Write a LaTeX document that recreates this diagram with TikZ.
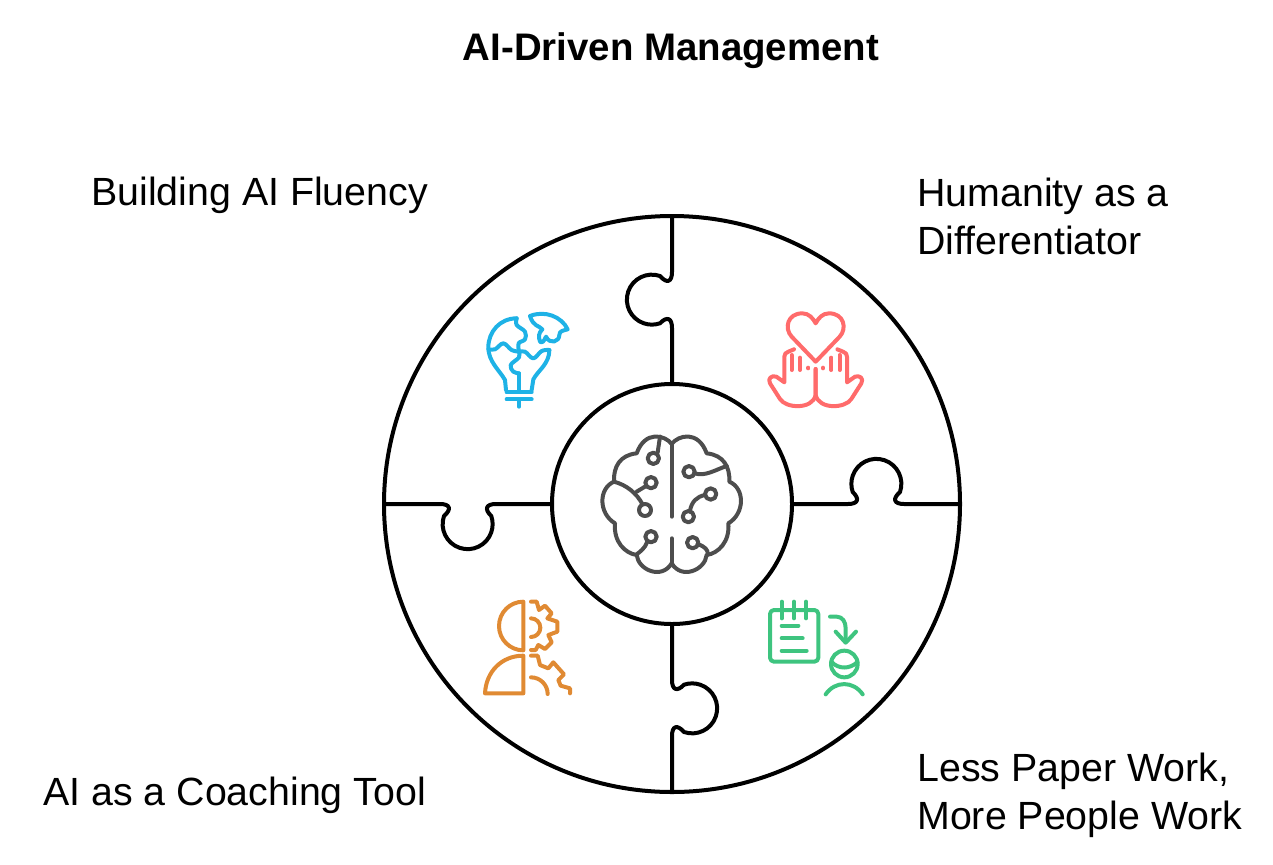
\documentclass[tikz,border=0pt]{standalone}
\usepackage{fontspec}
\setmainfont{Liberation Sans}
\usepackage{xcolor}
\definecolor{bulbblue}{RGB}{30,178,230}
\definecolor{heartred}{RGB}{255,107,107}
\definecolor{braingray}{RGB}{77,77,77}
\definecolor{gearorange}{RGB}{224,138,51}
\definecolor{notegreen}{RGB}{62,196,127}
\usetikzlibrary{positioning}

\begin{document}
\begin{tikzpicture}[
  x=0.75pt, y=-0.75pt,
  ringline/.style={draw=black, line width=3pt, line join=round},
  iconline/.style={line width=3pt, line cap=round, line join=round},
  heading/.style={inner sep=0pt, font=\fontsize{28.8}{34}\selectfont\bfseries},
  caption/.style={inner sep=0pt, anchor=west, align=left, font=\fontsize{29.5}{36}\selectfont}
]
\useasboundingbox (0,0) rectangle (1273,864);

\node[heading] (title) at (671,51) {AI-Driven Management};
\node[caption] (fluency) at (91,195) {Building AI Fluency};
\node[caption] (humanity) at (917,216) {Humanity as a\\Differentiator};
\node[caption] (coaching) at (43,795) {AI as a Coaching Tool};
\node[caption] (paperwork) at (917,795) {Less Paper Work,\\More People Work};

% ring and hub
\node[ringline, circle, outer sep=0pt, inner sep=0pt, minimum size=432pt] (ring) at (672,504) {};
\node[ringline, circle, outer sep=0pt, inner sep=0pt, minimum size=180pt] (hub) at (672,504) {};

% puzzle seams
\foreach \a in {0,90,180,270} {
  \draw[ringline, shift={(672,504)}, rotate=-\a]
    (0,-288) -- (0,-232) .. controls (0,-222) and (-5,-220) .. (-12,-228)
    arc[start angle=-71, end angle=-289, radius=25]
    .. controls (-5,-188) and (0,-186) .. (0,-176) -- (0,-120);
}

% bulb
\begin{scope}[shift={(470,290)}, x=0.25pt, y=-0.25pt, iconline, draw=bulbblue]
  \draw (140,85) .. controls (90,85) and (55,125) .. (55,172)
    .. controls (55,215) and (88,240) .. (105,270) -- (108,300);
  \draw (238,180) .. controls (238,222) and (205,240) .. (190,268) -- (185,300);
  \draw plot[smooth, tension=.6] coordinates {(55,178) (75,178) (100,160) (125,180) (147,185)};
  \draw plot[smooth, tension=.6] coordinates {(147,185) (165,185) (190,205) (215,183) (238,180)};
  \draw plot[smooth, tension=.6] coordinates {(140,85) (140,105) (165,125) (165,148) (146,160) (147,185)};
  \draw plot[smooth, tension=.6] coordinates {(147,185) (147,202) (122,225) (130,245) (147,250)};
  \draw (147,250) -- (147,300);
  \draw (110,307) -- (185,307);
  \draw (110,328) -- (185,328);
  \draw (147,328) -- (147,350);
  \draw (180,78) .. controls (225,60) and (275,80) .. (293,118)
    .. controls (280,122) and (268,122) .. (268,135)
    .. controls (268,155) and (240,165) .. (228,140)
    .. controls (222,155) and (215,160) .. (210,155)
    .. controls (205,140) and (205,130) .. (217,118)
    .. controls (205,105) and (190,110) .. (180,78) -- cycle;
\end{scope}

% heart and hands
\begin{scope}[shift={(815.67,295)}, x=0.25pt, y=-0.25pt, iconline, draw=heartred]
  \draw (0,200) -- (-72,125) .. controls (-95,100) and (-85,55) .. (-40,55)
    .. controls (-20,55) and (-8,70) .. (0,85)
    .. controls (8,70) and (20,55) .. (40,55)
    .. controls (85,55) and (95,100) .. (72,125) -- cycle;
  \foreach \s in {1,-1} {
    \begin{scope}[xscale=\s]
      \draw (-65,163) -- (-82,170) .. controls (-90,172) and (-94,178) .. (-94,185) -- (-94,262)
        -- (-118,245) .. controls (-132,240) and (-145,250) .. (-137,265)
        -- (-107,312) .. controls (-90,340) and (-10,345) .. (0,300) -- (0,222);
      \draw (-72,180) -- (-72,225);
      \draw (-47,188) -- (-47,225);
      \draw (-22,218) -- (-22,220);
    \end{scope}
  }
\end{scope}

% brain
\begin{scope}[shift={(671.67,420)}, x=0.25pt, y=-0.25pt, iconline, draw=braingray]
  \foreach \s in {1,-1} {
    \draw[xscale=\s] (0,72) .. controls (-20,45) and (-80,30) .. (-105,100)
      .. controls (-155,105) and (-175,140) .. (-173,185)
      .. controls (-220,205) and (-220,280) .. (-170,310)
      .. controls (-175,365) and (-140,400) .. (-105,405)
      .. controls (-100,450) and (-30,480) .. (0,430);
  }
  \draw (0,72) -- (0,290);
  \draw (0,355) -- (0,430);
  \draw (-35,50) -- (-42,97);
  \draw (-55,115) circle[radius=17];
  \draw (-62,188) circle[radius=17];
  \draw (-77,198) -- (-105,215);
  \draw (-173,185) .. controls (-135,195) and (-105,220) .. (-88,252);
  \draw (-80,270) circle[radius=18];
  \draw (-62,350) circle[radius=17];
  \draw (-73,365) .. controls (-80,385) and (-95,395) .. (-105,403);
  \draw (52,155) circle[radius=17];
  \draw (69,160) .. controls (100,170) and (130,150) .. (165,138);
  \draw (117,222) circle[radius=17];
  \draw (100,225) .. controls (75,230) and (60,245) .. (55,272);
  \draw (50,290) circle[radius=17];
  \draw (63,368) circle[radius=17];
  \draw (78,372) .. controls (100,380) and (110,390) .. (108,403);
\end{scope}

% gear person
\begin{scope}[shift={(470,585)}, x=0.25pt, y=-0.25pt, iconline, draw=gearorange]
  \draw (160,50) arc[start angle=-90, end angle=-270, radius=73] -- cycle;
  \draw (160,212) -- (160,325) -- (45,325) .. controls (48,260) and (95,212) .. (160,212) -- cycle;
  \draw (183,100) arc[start angle=-90, end angle=90, radius=28];
  \draw (183,50) -- (200,50) -- (207,75) -- (225,62) -- (245,85) -- (232,100) -- (262,110)
    -- (262,140) -- (235,150) -- (245,172) -- (225,192) -- (205,180) -- (197,195) -- (183,195);
  \draw (183,212) -- (203,212) -- (210,240) -- (235,250) -- (250,232) -- (282,268) -- (265,285)
    -- (272,302) -- (300,310) -- (300,325);
  \draw (183,277) arc[start angle=-90, end angle=0, radius=50];
\end{scope}

% notebook and person
\begin{scope}[shift={(755,590)}, x=0.25pt, y=-0.25pt, iconline, draw=notegreen]
  \draw[rounded corners=3pt] (45,60) rectangle (190,215);
  \foreach \xpos in {80,117,153} {
    \draw (\xpos,35) -- (\xpos,85);
  }
  \draw (80,107) -- (130,107);
  \draw (80,145) -- (143,145);
  \draw (80,182) -- (155,182);
  \draw (225,80) -- (245,80) .. controls (262,80) and (272,95) .. (272,115) -- (272,155);
  \draw (242,125) -- (272,158) -- (303,125);
  \draw (268,222) circle[radius=40];
  \draw (230,216) .. controls (250,238) and (285,238) .. (307,216);
  \draw (212,313) .. controls (240,272) and (295,272) .. (323,313);
\end{scope}

\end{tikzpicture}
\end{document}
